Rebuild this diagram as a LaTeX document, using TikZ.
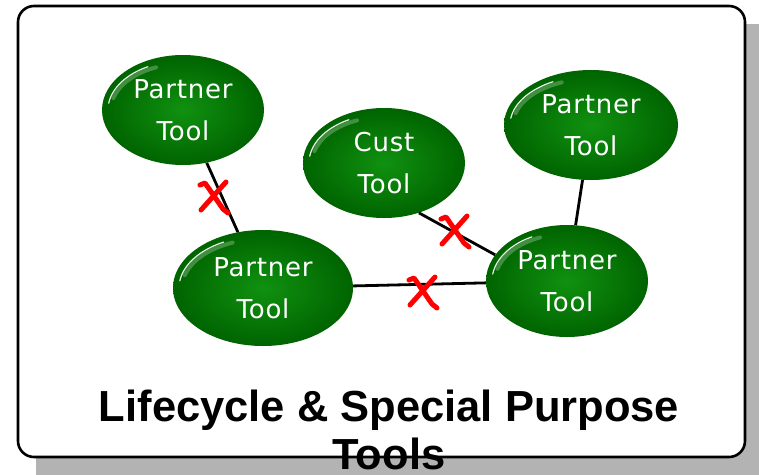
\documentclass[tikz,border=0pt]{standalone}
\usepackage{fontspec}
\setmainfont{Liberation Sans}
\newfontfamily\nodefont[LetterSpace=3]{DejaVu Sans}
\usetikzlibrary{shapes.geometric,calc}
\definecolor{shadowgray}{RGB}{179,179,179}
\definecolor{gtop}{RGB}{16,145,16}
\definecolor{gedge}{RGB}{0,100,0}
\definecolor{xred}{RGB}{255,0,0}
\tikzset{
  tool/.style={ellipse, inner sep=0pt, text=white, align=center,
    font=\nodefont\fontsize{26}{42}\selectfont,
    inner color=gtop, outer color=gedge, shading=radial},
  link/.style={draw=black, line width=2.8pt},
  xstroke/.style={draw=xred, line width=5pt, line cap=round, line join=round},
  frame/.style={draw=black, line width=2.6pt, fill=white, rounded corners=16pt},
}
\newcommand{\glint}[3]{% center, rx, ry
  \draw[white, line width=1.2pt, line cap=round, opacity=0.9]
    ($(#1)+({(#2-6)*cos(172)},{-(#3-6)*sin(172)})$)
    arc[start angle=172, end angle=118, x radius=#2-6, y radius=-(#3-6)];
  \draw[white, line width=4pt, line cap=round, opacity=0.25]
    ($(#1)+({(#2-9)*cos(165)},{-(#3-9)*sin(165)})$)
    arc[start angle=165, end angle=112, x radius=#2-9, y radius=-(#3-9)];
}
\newcommand{\redx}[1]{%
  \draw[xstroke] ($(#1)+(-13,-12)$) -- ($(#1)+(-8,-14)$) -- ($(#1)+(10,12)$) -- ($(#1)+(15,16)$);
  \draw[xstroke] ($(#1)+(13,-15)$) -- ($(#1)+(-12,13)$);
}
\begin{document}
\begin{tikzpicture}[x=1pt,y=-1pt]
\useasboundingbox (0,0) rectangle (759,474);
% shadow and frame
\fill[shadowgray, rounded corners=16pt] (36,24) rectangle (775,490);
\path[frame] (18,6) rectangle (745,457);
% nodes
\node[tool, minimum width=162pt, minimum height=110pt] (tl) at (183,110) {Partner\\Tool};
\node[tool, minimum width=162pt, minimum height=110pt] (cu) at (384,163) {Cust\\Tool};
\node[tool, minimum width=174pt, minimum height=110pt] (tr) at (591,125) {Partner\\Tool};
\node[tool, minimum width=180pt, minimum height=116pt] (bl) at (263,288) {Partner\\Tool};
\node[tool, minimum width=162pt, minimum height=112pt] (br) at (567,281) {Partner\\Tool};
\glint{tl}{81}{55}
\glint{cu}{81}{55}
\glint{tr}{87}{55}
\glint{bl}{90}{58}
\glint{br}{81}{56}
% connectors
\draw[link] (tl) -- (bl);
\draw[link] (cu.-55) -- (br.160);
\draw[link] (bl) -- (br);
\draw[link] (tr) -- (br);
\coordinate (m1) at (213,197);
\coordinate (m2) at (454,231);
\coordinate (m3) at (422,292);
\redx{m1}
\redx{m2}
\redx{m3}
% title
\node[font=\bfseries\fontsize{43.5}{48}\selectfont, align=center, anchor=base] (title) at (389,469)
  {Lifecycle \& Special Purpose\\Tools};
\end{tikzpicture}
\end{document}
